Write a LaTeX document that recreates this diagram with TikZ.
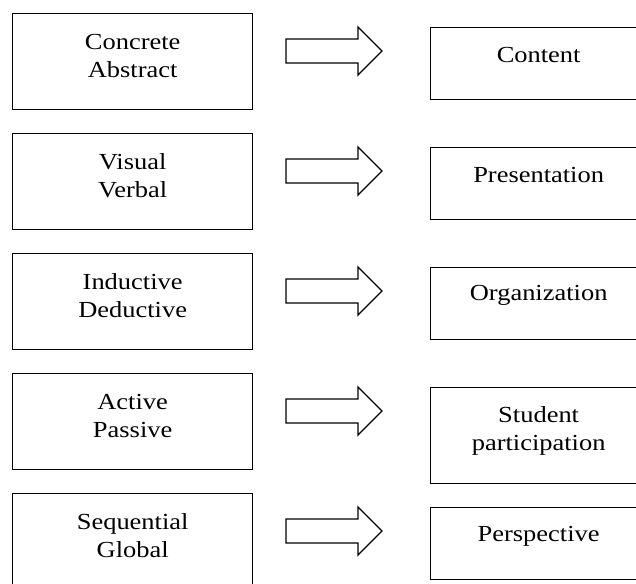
\documentclass[tikz,border=0pt]{standalone}
\usepackage{fontspec}
\setmainfont{Liberation Serif}[FakeStretch=1.15]
\begin{document}
\begin{tikzpicture}[x=1pt,y=-1pt,
  box/.style={draw, line width=1.3pt, inner sep=0pt, anchor=north west},
  leftbox/.style={box, minimum width=240pt, minimum height=96pt},
  rightbox/.style={box, minimum width=216pt, minimum height=72pt},
  lbl/.style={align=center, inner sep=0pt, font=\fontsize{23}{28}\selectfont},
  blockarrow/.style={draw, line width=1.3pt, line join=miter}
]
\useasboundingbox (0,0) rectangle (636,583);
\clip (0,0) rectangle (636,583);

% learning-style boxes (left column)
\node[leftbox] (L1) at (12,13)  {};
\node[leftbox] (L2) at (12,133) {};
\node[leftbox] (L3) at (12,253) {};
\node[leftbox] (L4) at (12,373) {};
\node[leftbox] (L5) at (12,493) {};

% teaching-style boxes (right column)
\node[rightbox] (R1) at (430,27)  {};
\node[rightbox] (R2) at (430,147) {};
\node[rightbox] (R3) at (430,267) {};
\node[rightbox, minimum height=96pt] (R4) at (430,387) {};
\node[rightbox] (R5) at (430,507) {};

% labels
\node[lbl] (tL1) at ([yshift=-43pt]L1.north) {Concrete\\Abstract};
\node[lbl] (tL2) at ([yshift=-43pt]L2.north) {Visual\\Verbal};
\node[lbl] (tL3) at ([yshift=-43pt]L3.north) {Inductive\\Deductive};
\node[lbl] (tL4) at ([yshift=-43pt]L4.north) {Active\\Passive};
\node[lbl] (tL5) at ([yshift=-43pt]L5.north) {Sequential\\Global};

\node[lbl] (tR1) at ([yshift=-28pt]R1.north) {Content};
\node[lbl] (tR2) at ([yshift=-28pt]R2.north) {Presentation};
\node[lbl] (tR3) at ([yshift=-28pt]R3.north) {Organization};
\node[lbl] (tR4) at ([yshift=-44pt]R4.north) {Student\\participation};
\node[lbl] (tR5) at ([yshift=-29pt]R5.north) {Perspective};

% block arrows between the columns
\foreach \i/\cy in {1/51,2/171,3/291,4/411,5/531}{
  \coordinate (A\i) at (286,\cy);
  \draw[blockarrow] (A\i) ++(0,-12) -- ++(72,0) -- ++(0,-12) -- ++(24,24)
    -- ++(-24,24) -- ++(0,-12) -- ++(-72,0) -- cycle;
}
\end{tikzpicture}
\end{document}
